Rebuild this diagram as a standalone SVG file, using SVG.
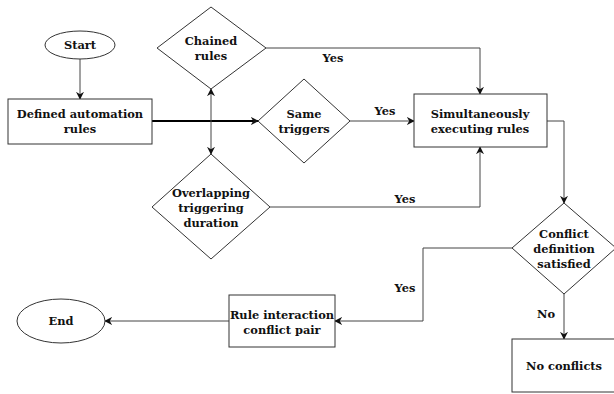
<svg xmlns="http://www.w3.org/2000/svg" width="614" height="394" viewBox="0 0 614 394">
<style>
.s{fill:#fff;stroke:#333;stroke-width:1}
.t{font-family:"DejaVu Serif","Liberation Serif",serif;font-weight:bold;font-size:11.4px;fill:#111;text-anchor:middle}
.c{fill:none;stroke:#444;stroke-width:1}
</style>
<defs>
<marker id="a" viewBox="0 0 10 10" refX="9" refY="5" markerWidth="8" markerHeight="8" markerUnits="userSpaceOnUse" orient="auto-start-reverse">
<path d="M0,0 L10,5 L0,10 L3,5 Z" fill="#111"/>
</marker>
</defs>
<rect width="614" height="394" fill="#fff"/>
<g id="connectors">
<path class="c" d="M80,59 V99" marker-end="url(#a)"/>
<path class="c" d="M152,121 H258" style="stroke:#000;stroke-width:2" marker-end="url(#a)"/>
<path class="c" d="M211,89 V154" marker-start="url(#a)" marker-end="url(#a)"/>
<path class="c" d="M266,48 H480 V94" marker-end="url(#a)"/>
<path class="c" d="M350,121 H414" marker-end="url(#a)"/>
<path class="c" d="M270,207 H480 V147" marker-end="url(#a)"/>
<path class="c" d="M547,121 H564 V203" marker-end="url(#a)"/>
<path class="c" d="M512,248 H423 V321 H335" marker-end="url(#a)"/>
<path class="c" d="M564,294 V339" marker-end="url(#a)"/>
<path class="c" d="M229,321 H105" marker-end="url(#a)"/>
<text class="t" x="333" y="62">Yes</text>
<text class="t" x="385" y="115">Yes</text>
<text class="t" x="405" y="203">Yes</text>
<text class="t" x="405" y="292">Yes</text>
<text class="t" x="546" y="318">No</text>
</g>
<g id="start"><ellipse class="s" cx="80" cy="45" rx="35" ry="14"/><text class="t" x="80" y="49">Start</text></g>
<g id="defined"><rect class="s" x="8" y="99" width="144" height="45"/><text class="t" x="80" y="118">Defined automation</text><text class="t" x="80" y="133">rules</text></g>
<g id="chained"><path class="s" d="M211,7 L266,48 L211,89 L157,48 Z"/><text class="t" x="211" y="45">Chained</text><text class="t" x="211" y="60">rules</text></g>
<g id="same"><path class="s" d="M304,79 L350,121 L304,163 L258,121 Z"/><text class="t" x="304" y="118">Same</text><text class="t" x="304" y="133">triggers</text></g>
<g id="overlapping"><path class="s" d="M211,154 L270,207 L211,259 L152,207 Z"/><text class="t" x="211" y="197">Overlapping</text><text class="t" x="211" y="212">triggering</text><text class="t" x="211" y="227">duration</text></g>
<g id="simultaneous"><rect class="s" x="414" y="94" width="133" height="53"/><text class="t" x="480" y="118">Simultaneously</text><text class="t" x="480" y="133">executing rules</text></g>
<g id="conflict"><path class="s" d="M564,203 L616,248 L564,294 L512,248 Z"/><text class="t" x="564" y="238">Conflict</text><text class="t" x="564" y="253">definition</text><text class="t" x="564" y="268">satisfied</text></g>
<g id="noconflicts"><rect class="s" x="512" y="339" width="103" height="53"/><text class="t" x="564" y="370">No conflicts</text></g>
<g id="ruleinteraction"><rect class="s" x="229" y="295" width="106" height="52"/><text class="t" x="282" y="319">Rule interaction</text><text class="t" x="282" y="334">conflict pair</text></g>
<g id="end"><ellipse class="s" cx="61" cy="321" rx="44" ry="22"/><text class="t" x="61" y="325">End</text></g>
</svg>
